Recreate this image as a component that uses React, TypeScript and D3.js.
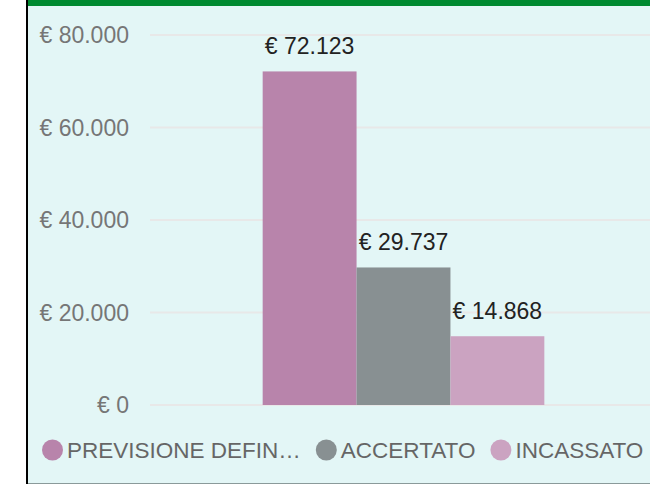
import React, { useEffect, useRef } from "react";
import * as d3 from "d3";

const categories = ["Entrate"];
const seriesNames = ["PREVISIONE DEFINITIVA", "ACCERTATO", "INCASSATO"];
const legendLabels = ["PREVISIONE DEFIN…", "ACCERTATO", "INCASSATO"];
const seriesValues = [72123, 29737, 14868];
const seriesColors = ["#b884ab", "#889092", "#cba3c1"];
const yTicks = [0, 20000, 40000, 60000, 80000];

const W = 650;
const H = 485;
const FONT = "'Liberation Sans', Arial, sans-serif";

const locale = d3.formatLocale({
  decimal: ",",
  thousands: ".",
  grouping: [3],
  currency: ["€ ", ""],
});
const fmt = locale.format("$,.0f");

export default function App() {
  const ref = useRef<SVGSVGElement>(null);

  useEffect(() => {
    const svg = d3.select(ref.current);
    svg.selectAll("*").remove();

    // frame
    svg.append("rect").attr("x", 28).attr("y", 0).attr("width", W - 28).attr("height", 483).attr("fill", "#e3f6f6");
    svg.append("rect").attr("x", 28).attr("y", 0).attr("width", W - 28).attr("height", 6).attr("fill", "#008a30");
    svg.append("rect").attr("x", 26).attr("y", 0).attr("width", 2).attr("height", 484).attr("fill", "#000");
    svg.append("rect").attr("x", 28).attr("y", 483).attr("width", W - 28).attr("height", 1).attr("fill", "#8a9a9a");

    const y = d3.scaleLinear().domain([0, 80000]).range([405, 35]);
    const x0 = d3.scaleBand().domain(categories).range([150, 657]).paddingInner(0).paddingOuter(0.4);
    const x1 = d3.scaleBand().domain(seriesNames).range([0, x0.bandwidth()]).padding(0);

    // grid
    svg
      .append("g")
      .selectAll("line")
      .data(yTicks)
      .join("line")
      .attr("x1", 150)
      .attr("x2", W)
      .attr("y1", (d) => y(d))
      .attr("y2", (d) => y(d))
      .attr("stroke", "#e8e8e8")
      .attr("stroke-width", 2);

    // y labels
    svg
      .append("g")
      .selectAll("text")
      .data(yTicks)
      .join("text")
      .attr("x", 129)
      .attr("y", (d) => y(d))
      .attr("dy", "0.36em")
      .attr("text-anchor", "end")
      .attr("font-family", FONT)
      .attr("font-size", 23)
      .attr("fill", "#767676")
      .text((d) => fmt(d));

    // bars
    const g = svg.append("g").attr("transform", `translate(${x0(categories[0])},0)`);
    const data = seriesNames.map((name, i) => ({ name, value: seriesValues[i], color: seriesColors[i] }));
    g.selectAll("rect")
      .data(data)
      .join("rect")
      .attr("x", (d) => x1(d.name)!)
      .attr("width", x1.bandwidth())
      .attr("y", (d) => y(d.value))
      .attr("height", (d) => y(0) - y(d.value))
      .attr("fill", (d) => d.color);

    g.selectAll("text")
      .data(data)
      .join("text")
      .attr("x", (d) => x1(d.name)! + x1.bandwidth() / 2)
      .attr("y", (d) => y(d.value) - 17)
      .attr("text-anchor", "middle")
      .attr("font-family", FONT)
      .attr("font-size", 23)
      .attr("fill", "#222")
      .text((d) => fmt(d.value));

    // legend
    const legend = svg.append("g");
    let cx = 42;
    const r = 10.5;
    const cy = 450;
    legendLabels.forEach((lab, i) => {
      legend.append("circle").attr("cx", cx + r).attr("cy", cy).attr("r", r).attr("fill", seriesColors[i]);
      const t = legend
        .append("text")
        .attr("x", cx + 2 * r + 4)
        .attr("y", cy)
        .attr("dy", "0.36em")
        .attr("font-family", FONT)
        .attr("font-size", 22.5)
        .attr("fill", "#666")
        .text(lab);
      const tw = (t.node() as SVGTextElement).getComputedTextLength();
      cx = cx + 2 * r + 4 + tw + 15;
    });
  }, []);

  return (
    <svg
      ref={ref}
      width={W}
      height={H}
      style={{ position: "absolute", left: 0, top: 0, background: "#fff" }}
    />
  );
}
